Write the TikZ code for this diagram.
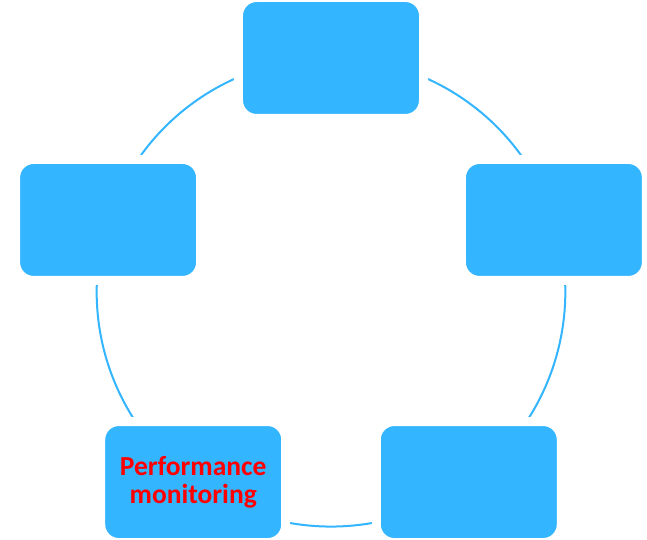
\documentclass[tikz,border=0pt]{standalone}
\usepackage{fontspec}
\setmainfont{Carlito}
\usetikzlibrary{backgrounds}
\definecolor{boxblue}{RGB}{51,181,255}
\begin{document}
\begin{tikzpicture}[x=1pt, y=1pt,
    stage/.style={fill=boxblue, draw=white, line width=9pt, rounded corners=18pt,
        minimum width=185pt, minimum height=121pt, inner sep=0pt, align=center,
        font=\fontsize{27.5}{27.5}\selectfont\bfseries, text=red},
    ring/.style={boxblue, line width=2pt}]
    \useasboundingbox (-331,-247.6) rectangle (316,292.4);

    % 五个方框
    \node[stage] (top) at (90:234.4) {};
    \node[stage] (left) at (162:234.4) {};
    \node[stage] (lowleft) at (234:234.4) {Performance\\monitoring};
    \node[stage] (lowright) at (306:234.4) {};
    \node[stage] (right) at (18:234.4) {};

    % 圆弧
    \begin{scope}[on background layer]
        \draw[ring] (top.center) to[bend right=36, looseness=0.94] (left.center);
        \draw[ring] (left.center) to[bend right=36, looseness=0.94] (lowleft.center);
        \draw[ring] (lowleft.center) to[bend right=36, looseness=0.94] (lowright.center);
        \draw[ring] (lowright.center) to[bend right=36, looseness=0.94] (right.center);
        \draw[ring] (right.center) to[bend right=36, looseness=0.94] (top.center);
    \end{scope}
\end{tikzpicture}
\end{document}
